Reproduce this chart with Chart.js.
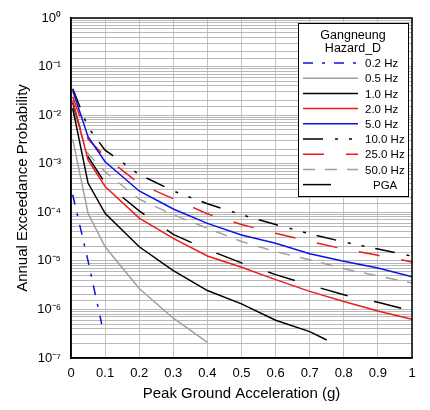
<!DOCTYPE html>
<html lang="en">
<head>
    <meta charset="UTF-8">
    <title>Gangneung Hazard_D</title>
    <script src="https://cdn.jsdelivr.net/npm/chart.js@4.4.0/dist/chart.umd.min.js"></script>
    <style>
        body { margin: 0; background: #fff; }
    </style>
</head>
<body>
    <div style="width: 430px; height: 410px">
        <canvas id="chart"></canvas>
    </div>
</body>
</html>

<script>
    // peak ground acceleration (g)
    const accel = [0.005, 0.05, 0.1, 0.2, 0.3, 0.4, 0.5, 0.6, 0.7, 0.8, 0.9, 1.0];
    const accel02 = [0.005, 0.05, 0.09];
    const accel05 = [0.005, 0.05, 0.1, 0.2, 0.3, 0.4];
    const accel10 = [0.005, 0.05, 0.1, 0.2, 0.3, 0.4, 0.5, 0.6, 0.7, 0.75];

    // annual exceedance probability
    const hz02 = [2.3e-4, 1.0e-5, 5.0e-7];
    const hz05 = [3.2e-3, 9.5e-5, 1.95e-5, 2.7e-6, 6.6e-7, 2.1e-7];
    const hz10 = [1.4e-2, 4.0e-4, 9.5e-5, 1.95e-5, 6.3e-6, 2.45e-6, 1.3e-6, 6.0e-7, 3.5e-7, 2.35e-7];
    const hz20 = [2.0e-2, 1.2e-3, 3.4e-4, 7.6e-5, 2.9e-5, 1.26e-5, 7.4e-6, 4.1e-6, 2.35e-6, 1.45e-6, 9.3e-7, 6.3e-7];
    const hz50 = [3.2e-2, 3.6e-3, 1.1e-3, 2.75e-4, 1.17e-4, 5.9e-5, 3.4e-5, 2.3e-5, 1.4e-5, 9.8e-6, 7.1e-6, 4.7e-6];
    const hz100 = [3.5e-2, 5.6e-3, 1.9e-3, 6.0e-4, 2.75e-4, 1.5e-4, 8.9e-5, 5.6e-5, 3.6e-5, 2.45e-5, 1.75e-5, 1.25e-5];
    const hz250 = [2.4e-2, 3.2e-3, 1.4e-3, 3.9e-4, 1.9e-4, 9.3e-5, 5.6e-5, 3.7e-5, 2.5e-5, 1.75e-5, 1.3e-5, 9.5e-6];
    const hz500 = [1.26e-2, 1.6e-3, 6.8e-4, 1.86e-4, 8.9e-5, 4.7e-5, 2.5e-5, 1.55e-5, 1.05e-5, 6.9e-6, 4.9e-6, 3.5e-6];
    const pga = [1.8e-2, 1.4e-3, 4.0e-4, 1.07e-4, 3.5e-5, 1.7e-5, 9.1e-6, 5.2e-6, 3.2e-6, 2.0e-6, 1.4e-6, 9.3e-7];

    const seriesLabels = ['0.2 Hz', '0.5 Hz', '1.0 Hz', '2.0 Hz', '5.0 Hz', '10.0 Hz', '25.0 Hz', '50.0 Hz', 'PGA'];
    const legendTitle = ['Gangneung', 'Hazard_D'];

    const FONT = '"Liberation Sans", Arial, sans-serif';
    const BLUE = '#0a14e0', RED = '#ea1c1c', GRAY = '#a0a0a0', BLACK = '#000000';

    const pts = (xs, ys) => xs.map((x, i) => ({x: x, y: ys[i]}));

    const ds = (label, xs, ys, color, dash) => ({
        label: label,
        data: pts(xs, ys),
        borderColor: color,
        borderDash: dash,
        borderWidth: 1.5,
        pointRadius: 0,
        fill: false,
        tension: 0
    });

    const sup = {'-': '⁻', '0': '⁰', '1': '¹', '2': '²', '3': '³', '4': '⁴', '5': '⁵', '6': '⁶', '7': '⁷', '8': '⁸', '9': '⁹'};

    // legend box drawn inside the plot area
    const boxLegend = {
        id: 'boxLegend',
        afterDatasetsDraw(chart) {
            const ctx = chart.ctx;
            const x0 = 298, y0 = 23, w = 110, h = 173;
            ctx.save();
            ctx.fillStyle = '#fff';
            ctx.fillRect(x0, y0, w, h);
            ctx.strokeStyle = '#000';
            ctx.lineWidth = 1;
            ctx.strokeRect(x0 + 0.5, y0 + 0.5, w, h);
            ctx.fillStyle = '#000';
            ctx.font = '12.5px ' + FONT;
            ctx.textAlign = 'center';
            ctx.textBaseline = 'middle';
            ctx.fillText(legendTitle[0], 353, 36);
            ctx.fillText(legendTitle[1], 353, 49);
            ctx.font = '11.5px ' + FONT;
            chart.data.datasets.forEach((d, i) => {
                const y = 63 + i * 15.2;
                ctx.beginPath();
                ctx.strokeStyle = d.borderColor;
                ctx.lineWidth = 1.5;
                ctx.setLineDash(d.borderDash || []);
                ctx.moveTo(303, y);
                ctx.lineTo(358, y);
                ctx.stroke();
                ctx.setLineDash([]);
                ctx.textAlign = 'left';
                ctx.fillText(d.label, d.label === 'PGA' ? 373 : 365, y + 1);
            });
            ctx.restore();
        },
        afterDraw(chart) {
            const a = chart.chartArea;
            const ctx = chart.ctx;
            ctx.save();
            ctx.strokeStyle = '#000';
            ctx.lineWidth = 1.5;
            ctx.strokeRect(a.left, a.top, a.right - a.left, a.bottom - a.top);
            ctx.restore();
        }
    };

    const myChart = new Chart(document.querySelector('#chart'), {
        type: 'line',
        data: {
            datasets: [
                ds(seriesLabels[0], accel02, hz02, BLUE, [10, 9, 3, 9]),
                ds(seriesLabels[1], accel05, hz05, GRAY, []),
                ds(seriesLabels[2], accel10, hz10, BLACK, []),
                ds(seriesLabels[3], accel, hz20, RED, []),
                ds(seriesLabels[4], accel, hz50, BLUE, []),
                ds(seriesLabels[5], accel, hz100, BLACK, [20, 12, 3, 11, 3, 11]),
                ds(seriesLabels[6], accel, hz250, RED, [21, 22]),
                ds(seriesLabels[7], accel, hz500, GRAY, [12, 10]),
                ds(seriesLabels[8], accel, pga, BLACK, [28, 27])
            ]
        },
        options: {
            responsive: true,
            maintainAspectRatio: false,
            animation: false,
            layout: {padding: {top: 18, right: 18, left: 0, bottom: 0}},
            plugins: {
                legend: {display: false},
                tooltip: {enabled: false}
            },
            scales: {
                x: {
                    type: 'linear',
                    min: 0,
                    max: 1,
                    ticks: {
                        stepSize: 0.1,
                        padding: 8,
                        color: '#000',
                        font: {family: FONT, size: 13},
                        callback: v => String(Math.round(v * 10) / 10)
                    },
                    grid: {color: '#c4c4c4', lineWidth: 1, drawTicks: false},
                    border: {color: '#000', width: 1.5},
                    title: {
                        display: true,
                        text: 'Peak Ground Acceleration (g)',
                        color: '#000',
                        font: {family: FONT, size: 15},
                        padding: {top: 0, bottom: 7}
                    },
                    afterFit: s => { s.height = 52; }
                },
                y: {
                    type: 'logarithmic',
                    min: 1e-7,
                    max: 1,
                    ticks: {
                        autoSkip: false,
                        padding: 10,
                        color: '#000',
                        font: {family: FONT, size: 13},
                        callback: v => {
                            const e = Math.log10(v);
                            const r = Math.round(e);
                            if (Math.abs(e - r) > 1e-6) return '';
                            return '10' + String(r).split('').map(c => sup[c]).join('');
                        }
                    },
                    grid: {color: '#b8b8b8', lineWidth: 1, drawTicks: false},
                    border: {color: '#000', width: 1.5},
                    title: {
                        display: true,
                        text: 'Annual Exceedance Probability',
                        color: '#000',
                        font: {family: FONT, size: 15},
                        padding: {top: 14, bottom: 0}
                    },
                    afterFit: s => { s.width = 71; }
                }
            }
        },
        plugins: [boxLegend]
    });
</script>
